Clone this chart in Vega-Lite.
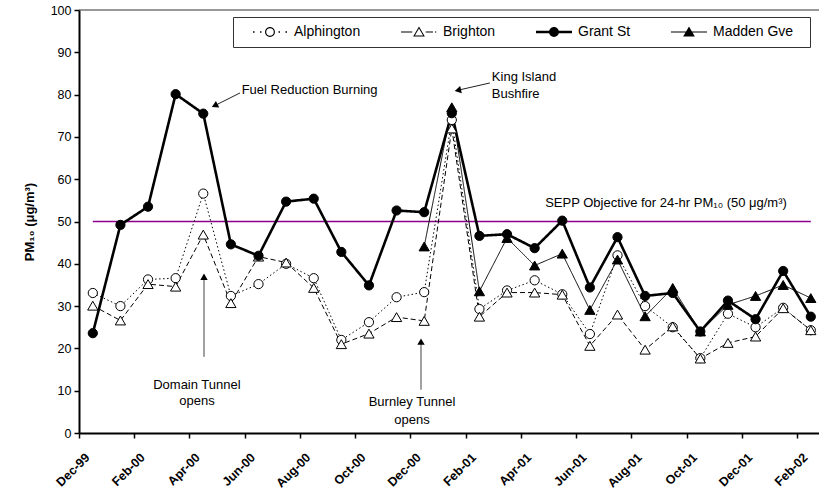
{
  "$schema": "https://vega.github.io/schema/vega-lite/v6.json",
  "width": 740,
  "height": 423,
  "autosize": {"type": "none"},
  "padding": {"left": 79, "top": 10, "right": 0, "bottom": 63},
  "background": "white",
  "config": {
    "view": {"stroke": null},
    "font": "Liberation Sans",
    "text": {"font": "Liberation Sans", "color": "black"}
  },
  "data": {
    "values": [
      {"month": "1999-12", "n": 0, "site": "Alphington", "pm10": 33.1},
      {"month": "2000-01", "n": 1, "site": "Alphington", "pm10": 30.0},
      {"month": "2000-02", "n": 2, "site": "Alphington", "pm10": 36.3},
      {"month": "2000-03", "n": 3, "site": "Alphington", "pm10": 36.6},
      {"month": "2000-04", "n": 4, "site": "Alphington", "pm10": 56.6},
      {"month": "2000-05", "n": 5, "site": "Alphington", "pm10": 32.4},
      {"month": "2000-06", "n": 6, "site": "Alphington", "pm10": 35.2},
      {"month": "2000-07", "n": 7, "site": "Alphington", "pm10": 40.0},
      {"month": "2000-08", "n": 8, "site": "Alphington", "pm10": 36.6},
      {"month": "2000-09", "n": 9, "site": "Alphington", "pm10": 22.0},
      {"month": "2000-10", "n": 10, "site": "Alphington", "pm10": 26.2},
      {"month": "2000-11", "n": 11, "site": "Alphington", "pm10": 32.1},
      {"month": "2000-12", "n": 12, "site": "Alphington", "pm10": 33.3},
      {"month": "2001-01", "n": 13, "site": "Alphington", "pm10": 74.0},
      {"month": "2001-02", "n": 14, "site": "Alphington", "pm10": 29.3},
      {"month": "2001-03", "n": 15, "site": "Alphington", "pm10": 33.7},
      {"month": "2001-04", "n": 16, "site": "Alphington", "pm10": 36.1},
      {"month": "2001-05", "n": 17, "site": "Alphington", "pm10": 32.8},
      {"month": "2001-06", "n": 18, "site": "Alphington", "pm10": 23.4},
      {"month": "2001-07", "n": 19, "site": "Alphington", "pm10": 42.0},
      {"month": "2001-08", "n": 20, "site": "Alphington", "pm10": 30.0},
      {"month": "2001-09", "n": 21, "site": "Alphington", "pm10": 25.0},
      {"month": "2001-10", "n": 22, "site": "Alphington", "pm10": 17.7},
      {"month": "2001-11", "n": 23, "site": "Alphington", "pm10": 28.2},
      {"month": "2001-12", "n": 24, "site": "Alphington", "pm10": 25.0},
      {"month": "2002-01", "n": 25, "site": "Alphington", "pm10": 29.6},
      {"month": "2002-02", "n": 26, "site": "Alphington", "pm10": 24.3},

      {"month": "1999-12", "n": 0, "site": "Brighton", "pm10": 30.1},
      {"month": "2000-01", "n": 1, "site": "Brighton", "pm10": 26.6},
      {"month": "2000-02", "n": 2, "site": "Brighton", "pm10": 35.2},
      {"month": "2000-03", "n": 3, "site": "Brighton", "pm10": 34.6},
      {"month": "2000-04", "n": 4, "site": "Brighton", "pm10": 46.9},
      {"month": "2000-05", "n": 5, "site": "Brighton", "pm10": 30.7},
      {"month": "2000-06", "n": 6, "site": "Brighton", "pm10": 41.7},
      {"month": "2000-07", "n": 7, "site": "Brighton", "pm10": 40.3},
      {"month": "2000-08", "n": 8, "site": "Brighton", "pm10": 34.3},
      {"month": "2000-09", "n": 9, "site": "Brighton", "pm10": 21.0},
      {"month": "2000-10", "n": 10, "site": "Brighton", "pm10": 23.5},
      {"month": "2000-11", "n": 11, "site": "Brighton", "pm10": 27.4},
      {"month": "2000-12", "n": 12, "site": "Brighton", "pm10": 26.5},
      {"month": "2001-01", "n": 13, "site": "Brighton", "pm10": 72.0},
      {"month": "2001-02", "n": 14, "site": "Brighton", "pm10": 27.5},
      {"month": "2001-03", "n": 15, "site": "Brighton", "pm10": 33.2},
      {"month": "2001-04", "n": 16, "site": "Brighton", "pm10": 33.2},
      {"month": "2001-05", "n": 17, "site": "Brighton", "pm10": 32.7},
      {"month": "2001-06", "n": 18, "site": "Brighton", "pm10": 20.6},
      {"month": "2001-07", "n": 19, "site": "Brighton", "pm10": 28.0},
      {"month": "2001-08", "n": 20, "site": "Brighton", "pm10": 19.7},
      {"month": "2001-09", "n": 21, "site": "Brighton", "pm10": 25.2},
      {"month": "2001-10", "n": 22, "site": "Brighton", "pm10": 17.6},
      {"month": "2001-11", "n": 23, "site": "Brighton", "pm10": 21.3},
      {"month": "2001-12", "n": 24, "site": "Brighton", "pm10": 22.8},
      {"month": "2002-01", "n": 25, "site": "Brighton", "pm10": 29.5},
      {"month": "2002-02", "n": 26, "site": "Brighton", "pm10": 24.3},

      {"month": "1999-12", "n": 0, "site": "Grant St", "pm10": 23.6},
      {"month": "2000-01", "n": 1, "site": "Grant St", "pm10": 49.2},
      {"month": "2000-02", "n": 2, "site": "Grant St", "pm10": 53.5},
      {"month": "2000-03", "n": 3, "site": "Grant St", "pm10": 80.1},
      {"month": "2000-04", "n": 4, "site": "Grant St", "pm10": 75.5},
      {"month": "2000-05", "n": 5, "site": "Grant St", "pm10": 44.6},
      {"month": "2000-06", "n": 6, "site": "Grant St", "pm10": 41.9},
      {"month": "2000-07", "n": 7, "site": "Grant St", "pm10": 54.7},
      {"month": "2000-08", "n": 8, "site": "Grant St", "pm10": 55.4},
      {"month": "2000-09", "n": 9, "site": "Grant St", "pm10": 42.8},
      {"month": "2000-10", "n": 10, "site": "Grant St", "pm10": 34.9},
      {"month": "2000-11", "n": 11, "site": "Grant St", "pm10": 52.6},
      {"month": "2000-12", "n": 12, "site": "Grant St", "pm10": 52.2},
      {"month": "2001-01", "n": 13, "site": "Grant St", "pm10": 75.6},
      {"month": "2001-02", "n": 14, "site": "Grant St", "pm10": 46.6},
      {"month": "2001-03", "n": 15, "site": "Grant St", "pm10": 47.0},
      {"month": "2001-04", "n": 16, "site": "Grant St", "pm10": 43.7},
      {"month": "2001-05", "n": 17, "site": "Grant St", "pm10": 50.2},
      {"month": "2001-06", "n": 18, "site": "Grant St", "pm10": 34.4},
      {"month": "2001-07", "n": 19, "site": "Grant St", "pm10": 46.3},
      {"month": "2001-08", "n": 20, "site": "Grant St", "pm10": 32.4},
      {"month": "2001-09", "n": 21, "site": "Grant St", "pm10": 33.1},
      {"month": "2001-10", "n": 22, "site": "Grant St", "pm10": 24.0},
      {"month": "2001-11", "n": 23, "site": "Grant St", "pm10": 31.3},
      {"month": "2001-12", "n": 24, "site": "Grant St", "pm10": 26.9},
      {"month": "2002-01", "n": 25, "site": "Grant St", "pm10": 38.3},
      {"month": "2002-02", "n": 26, "site": "Grant St", "pm10": 27.5},

      {"month": "2000-12", "n": 12, "site": "Madden Gve", "pm10": 44.1},
      {"month": "2001-01", "n": 13, "site": "Madden Gve", "pm10": 77.0},
      {"month": "2001-02", "n": 14, "site": "Madden Gve", "pm10": 33.5},
      {"month": "2001-03", "n": 15, "site": "Madden Gve", "pm10": 46.1},
      {"month": "2001-04", "n": 16, "site": "Madden Gve", "pm10": 39.6},
      {"month": "2001-05", "n": 17, "site": "Madden Gve", "pm10": 42.4},
      {"month": "2001-06", "n": 18, "site": "Madden Gve", "pm10": 29.1},
      {"month": "2001-07", "n": 19, "site": "Madden Gve", "pm10": 41.0},
      {"month": "2001-08", "n": 20, "site": "Madden Gve", "pm10": 27.6},
      {"month": "2001-09", "n": 21, "site": "Madden Gve", "pm10": 34.3},
      {"month": "2001-10", "n": 22, "site": "Madden Gve", "pm10": 24.0},
      {"month": "2001-11", "n": 23, "site": "Madden Gve", "pm10": 30.3},
      {"month": "2001-12", "n": 24, "site": "Madden Gve", "pm10": 32.4},
      {"month": "2002-01", "n": 25, "site": "Madden Gve", "pm10": 35.0},
      {"month": "2002-02", "n": 26, "site": "Madden Gve", "pm10": 31.9}
    ]
  },
  "layer": [
    {
      "data": {"values": [{}]},
      "mark": {"type": "rule", "color": "#333", "strokeWidth": 1},
      "encoding": {"y": {"datum": 100}}
    },
    {
      "data": {"values": [{}]},
      "mark": {"type": "rule", "color": "#8B008B", "stroke": "#8B008B", "strokeWidth": 1.3},
      "encoding": {"x": {"datum": 0}, "x2": {"datum": 26}, "y": {"datum": 50}}
    },
    {
      "mark": {"type": "line", "color": "black"},
      "encoding": {
        "x": {
          "field": "n",
          "type": "quantitative",
          "scale": {"domain": [-0.5, 26.297], "nice": false, "zero": false},
          "axis": {
            "title": null,
            "values": [0, 2, 4, 6, 8, 10, 12, 14, 16, 18, 20, 22, 24, 26],
            "labelExpr": "timeFormat(datetime(1999, 11 + datum.value, 1), '%b-%y')",
            "tickOffset": -13.8075,
            "labelOffset": 8,
            "grid": false,
            "domainColor": "black",
            "domainWidth": 2,
            "tickColor": "black",
            "tickWidth": 1.5,
            "tickSize": 5,
            "labelAngle": -45,
            "labelAlign": "right",
            "labelBaseline": "middle",
            "labelPadding": 17,
            "labelFont": "Liberation Sans",
            "labelFontSize": 12.5,
            "labelFontWeight": "bold",
            "labelColor": "black",
            "labelOverlap": false,
            "labelBound": false,
            "labelFlush": false
          }
        },
        "y": {
          "field": "pm10",
          "type": "quantitative",
          "scale": {"domain": [0, 100], "nice": false},
          "axis": {
            "title": "PM₁₀ (μg/m³)",
            "titleFont": "Liberation Sans",
            "titleFontSize": 13,
            "titleFontWeight": "bold",
            "titleColor": "black",
            "titlePadding": 14,
            "values": [0, 10, 20, 30, 40, 50, 60, 70, 80, 90, 100],
            "grid": false,
            "domainColor": "black",
            "domainWidth": 2,
            "tickColor": "black",
            "tickWidth": 1.5,
            "tickSize": 5,
            "labelPadding": 3,
            "labelFont": "Liberation Sans",
            "labelFontSize": 12.5,
            "labelColor": "black"
          }
        },
        "detail": {"field": "site", "type": "nominal"},
        "strokeWidth": {
          "condition": {"test": "datum.site === 'Grant St'", "value": 2.6},
          "value": 1
        },
        "strokeDash": {
          "condition": [
            {"test": "datum.site === 'Alphington'", "value": [1.5, 2.5]},
            {"test": "datum.site === 'Brighton'", "value": [5, 3]}
          ],
          "value": [1, 0]
        }
      }
    },
    {
      "mark": {"type": "point", "filled": true, "opacity": 1, "stroke": "black", "strokeWidth": 1},
      "encoding": {
        "x": {"field": "n", "type": "quantitative"},
        "y": {"field": "pm10", "type": "quantitative"},
        "shape": {
          "condition": {"test": "datum.site === 'Alphington' || datum.site === 'Grant St'", "value": "circle"},
          "value": "triangle-up"
        },
        "size": {
          "condition": {"test": "datum.site === 'Alphington' || datum.site === 'Grant St'", "value": 85},
          "value": 105
        },
        "fill": {
          "condition": {"test": "datum.site === 'Grant St' || datum.site === 'Madden Gve'", "value": "black"},
          "value": "white"
        }
      }
    },
    {
      "transform": [{"filter": "false"}],
      "mark": {"type": "point", "filled": true, "color": "black", "opacity": 1, "size": 81, "strokeWidth": 0},
      "encoding": {
        "x": {"field": "n", "type": "quantitative"},
        "y": {"field": "pm10", "type": "quantitative"},
        "shape": {
          "field": "site",
          "type": "nominal",
          "scale": {
            "domain": ["Alphington", "Brighton", "Grant St", "Madden Gve"],
            "range": [
              "M-6.444,0M-3.78,-0.14H-3.44V0.14H-3.78ZM-2.22,-0.14H-1.89V0.14H-2.22ZM1.89,-0.14H2.22V0.14H1.89ZM3.44,-0.14H3.78V0.14H3.44ZM-1.1,0A1.1,1.1,0,1,1,1.1,0A1.1,1.1,0,1,1,-1.1,0ZM-0.85,0A0.85,0.85,0,1,0,0.85,0A0.85,0.85,0,1,0,-0.85,0Z",
              "M-6.444,0M-4,-0.11H-1.5V0.11H-4ZM1.5,-0.11H3.1V0.11H1.5ZM3.55,-0.11H3.85V0.11H3.55ZM0,-1.25L1.3,1L-1.3,1ZM0,-0.8L-0.91,0.775L0.91,0.775Z",
              "M-6.444,0M-4,-0.29H-1V0.29H-4ZM1,-0.29H4V0.29H1ZM-1.1,0A1.1,1.1,0,1,1,1.1,0A1.1,1.1,0,1,1,-1.1,0Z",
              "M-6.444,0M25.1,0M-4,-0.11H4V0.11H-4ZM0,-1.25L1.3,1L-1.3,1Z"
            ]
          },
          "legend": {
            "orient": "none",
            "legendX": 154,
            "legendY": 7,
            "direction": "horizontal",
            "title": null,
            "fillColor": "white",
            "strokeColor": "#333",
            "padding": 8,
            "labelFont": "Liberation Sans",
            "labelFontSize": 14,
            "labelColor": "black",
            "labelLimit": 300,
            "symbolSize": 81,
            "symbolStrokeWidth": 0,
            "symbolFillColor": "black",
            "symbolOffset": 22,
            "labelOffset": 17,
            "columnPadding": 29
          }
        }
      }
    },
    {
      "data": {"values": [{}]},
      "layer": [
        {
          "mark": {"type": "text", "text": "Fuel Reduction Burning", "align": "left", "baseline": "alphabetic", "fontSize": 13},
          "encoding": {"x": {"datum": 5.39}, "y": {"datum": 80.1}}
        },
        {
          "mark": {"type": "rule", "color": "#222", "strokeWidth": 1},
          "encoding": {"x": {"datum": 5.33}, "y": {"datum": 80.39}, "x2": {"datum": 4.415}, "y2": {"datum": 77.39}}
        },
        {
          "mark": {"type": "point", "shape": "triangle-up", "filled": true, "color": "black", "opacity": 1, "size": 55, "angle": 243.4},
          "encoding": {"x": {"datum": 4.415}, "y": {"datum": 77.39}}
        },
        {
          "mark": {"type": "text", "text": ["King Island", "Bushfire"], "align": "left", "baseline": "alphabetic", "fontSize": 13, "lineHeight": 16.6},
          "encoding": {"x": {"datum": 14.45}, "y": {"datum": 83.1}}
        },
        {
          "mark": {"type": "rule", "color": "#222", "strokeWidth": 1},
          "encoding": {"x": {"datum": 14.38}, "y": {"datum": 82.75}, "x2": {"datum": 13.22}, "y2": {"datum": 81.03}}
        },
        {
          "mark": {"type": "point", "shape": "triangle-up", "filled": true, "color": "black", "opacity": 1, "size": 55, "angle": 257.1},
          "encoding": {"x": {"datum": 13.22}, "y": {"datum": 81.03}}
        },
        {
          "mark": {"type": "text", "text": ["Domain Tunnel", "opens"], "align": "center", "baseline": "alphabetic", "fontSize": 13, "lineHeight": 16.7},
          "encoding": {"x": {"datum": 3.77}, "y": {"datum": 10.5}}
        },
        {
          "mark": {"type": "rule", "color": "#444", "strokeWidth": 1},
          "encoding": {"x": {"datum": 4.027}, "y": {"datum": 18.0}, "y2": {"datum": 36.95}}
        },
        {
          "mark": {"type": "point", "shape": "triangle-up", "filled": true, "color": "black", "opacity": 1, "size": 55},
          "encoding": {"x": {"datum": 4.027}, "y": {"datum": 36.95}}
        },
        {
          "mark": {"type": "text", "text": ["Burnley Tunnel", "opens"], "align": "center", "baseline": "alphabetic", "fontSize": 13, "lineHeight": 17.3},
          "encoding": {"x": {"datum": 11.56}, "y": {"datum": 6.3}}
        },
        {
          "mark": {"type": "rule", "color": "#444", "strokeWidth": 1},
          "encoding": {"x": {"datum": 11.885}, "y": {"datum": 10.23}, "y2": {"datum": 21.6}}
        },
        {
          "mark": {"type": "point", "shape": "triangle-up", "filled": true, "color": "black", "opacity": 1, "size": 55},
          "encoding": {"x": {"datum": 11.885}, "y": {"datum": 21.6}}
        },
        {
          "mark": {"type": "text", "text": "SEPP Objective for 24-hr PM₁₀ (50 μg/m³)", "align": "left", "baseline": "alphabetic", "fontSize": 13},
          "encoding": {"x": {"datum": 16.38}, "y": {"datum": 53.4}}
        }
      ]
    }
  ]
}
